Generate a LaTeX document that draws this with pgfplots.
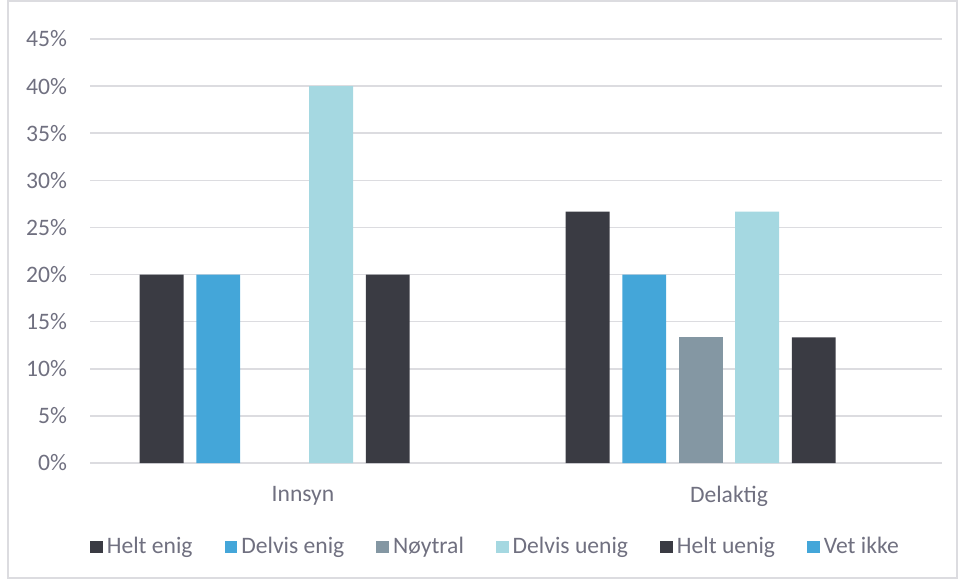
\documentclass[border=0pt]{standalone}
\usepackage{pgfplots}
\pgfplotsset{compat=1.18}
\usepackage{fontspec}
\setmainfont{Carlito}
\definecolor{cdark}{HTML}{3A3B43}
\definecolor{cblue}{HTML}{44A6D9}
\definecolor{cgray}{HTML}{8497A3}
\definecolor{clight}{HTML}{A5D8E1}
\definecolor{ctext}{HTML}{707080}
\definecolor{cgrid}{HTML}{DCDCE0}
\begin{document}
\begin{tikzpicture}
\path (-45pt,-58pt) rectangle (434pt,231.5pt);
\draw[cgrid, line width=0.8pt] (-41pt,-57.5pt) rectangle (433.5pt,231pt);
\begin{axis}[
  at={(0pt,0pt)}, anchor=south west,
  scale only axis, width=426pt, height=212pt,
  xmin=-0.5, xmax=1.5, ymin=0, ymax=45,
  ybar, bar width=0.103,
  xtick={0,1}, xticklabels={Innsyn,Delaktig},
  ytick={0,5,...,45},
  yticklabel={\pgfmathprintnumber{\tick}\%},
  /pgf/number format/assume math mode=true,
  major tick length=0pt,
  axis line style={draw=none},
  ymajorgrids, grid style={cgrid, line width=0.8pt},
  tick label style={font=\fontsize{11.8}{13}\selectfont, text=ctext},
  yticklabel style={xshift=-8pt},
  xticklabel style={yshift=-8pt},
  legend style={at={(0.477,-0.198)}, anchor=center, draw=none, fill=none,
    legend columns=6, font=\fontsize{11.8}{13}\selectfont, text=ctext,
    /tikz/every even column/.append style={column sep=14pt},
    /tikz/every odd column/.append style={column sep=0pt}},
  legend image code/.code={\fill[#1] (0pt,-3.2pt) rectangle (6.4pt,3.2pt);},
]
\addplot[fill=cdark, draw=none, bar shift=-0.332] coordinates {(0,20) (1,26.67)};
\addlegendentry{Helt enig}
\addplot[fill=cblue, draw=none, bar shift=-0.199] coordinates {(0,20) (1,20)};
\addlegendentry{Delvis enig}
\addplot[fill=cgray, draw=none, bar shift=-0.066] coordinates {(1,13.33)};
\addlegendentry{Nøytral}
\addplot[fill=clight, draw=none, bar shift=0.066] coordinates {(0,40) (1,26.67)};
\addlegendentry{Delvis uenig}
\addplot[fill=cdark, draw=none, bar shift=0.199] coordinates {(0,20) (1,13.33)};
\addlegendentry{Helt uenig}
\addlegendimage{fill=cblue, draw=none}
\addlegendentry{Vet ikke}
\end{axis}
\end{tikzpicture}
\end{document}
